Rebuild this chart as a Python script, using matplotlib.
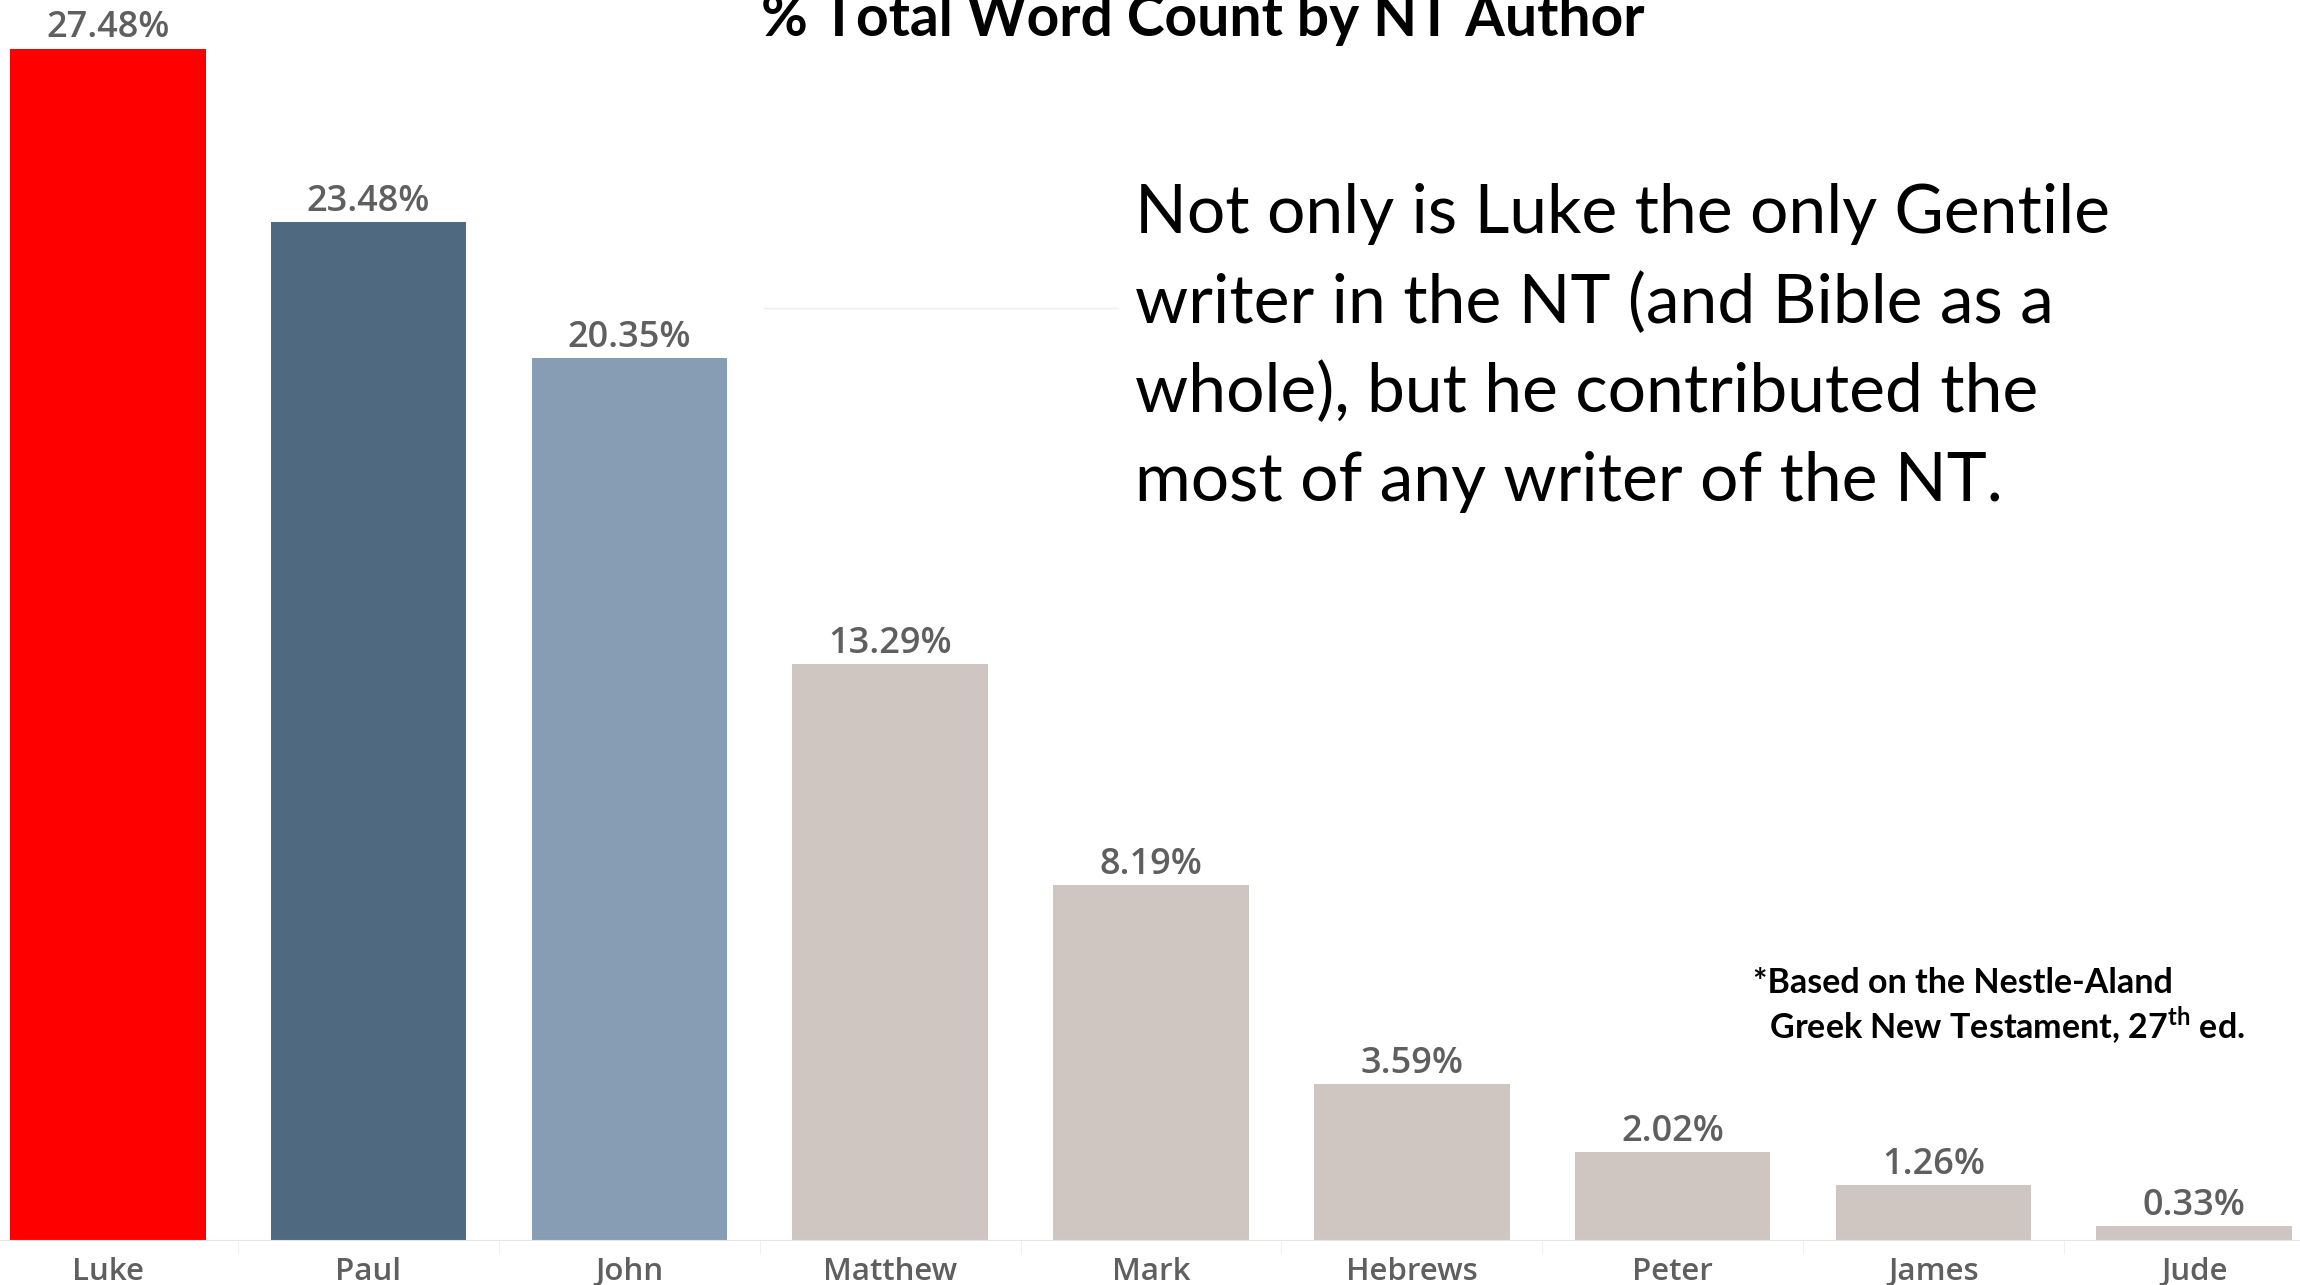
import matplotlib as mpl
mpl.use('Agg')
import matplotlib.pyplot as plt
import numpy as np

# data
authors = ['Luke', 'Paul', 'John', 'Matthew', 'Mark', 'Hebrews', 'Peter', 'James', 'Jude']
share = [27.48, 23.48, 20.35, 13.29, 8.19, 3.59, 2.02, 1.26, 0.33]
colors = ['#ff0000', '#4f6980', '#879db3'] + ['#d0c6c1'] * 6

plt.rcParams['font.family'] = ['Lato', 'DejaVu Sans']

fig = plt.figure(figsize=(23, 12.85), dpi=100)
ax = fig.add_axes([0, 0.035, 1, 0.965])

x = np.arange(len(authors))
ax.bar(x, share, width=0.75, color=colors, zorder=2)

for xi, v in zip(x, share):
    ax.annotate('%.2f%%' % v, (xi, v), xytext=(0, 8), textcoords='offset points',
                ha='center', va='baseline', fontsize=26, color='#5f5f5f',
                family=['Open Sans', 'DejaVu Sans'], fontweight='semibold')

ax.set_xlim(-0.413, 8.406)
ax.set_ylim(0, 28.6)
ax.set_xticks(x)
ax.set_xticklabels(authors, fontsize=22.5, color='#5f5f5f',
                   family=['Open Sans', 'DejaVu Sans'], fontweight='semibold')
ax.tick_params(axis='x', length=0, pad=12)
ax.set_xticks(x[:-1] + 0.5, minor=True)
ax.tick_params(axis='x', which='minor', length=10, color='#eeeeee')
ax.set_yticks([])
for s in ['top', 'right', 'left']:
    ax.spines[s].set_visible(False)
ax.spines['bottom'].set_color('#e6e6e6')

# faint leftover grid line behind the note
ax.axhline(21.5, xmin=0.332, xmax=0.486, color='#eeeeee', lw=1, zorder=1)

fig.text(0.523, 1.0 - 36 / 1285, '% Total Word Count by NT Author', ha='center',
         va='baseline', fontsize=41, fontweight='bold', color='black')

fig.text(0.4935, 1 - 183 / 1285,
         'Not only is Luke the only Gentile\nwriter in the NT (and Bible as a\n'
         'whole), but he contributed the\nmost of any writer of the NT.',
         ha='left', va='top', fontsize=48.8, linespacing=1.53, color='black')

fig.text(0.762, 1 - 967 / 1285,
         '*Based on the Nestle-Aland\n  Greek New Testament, 27$^{\\mathregular{th}}$ ed.',
         ha='left', va='top', fontsize=24.5, fontweight='bold', linespacing=1.18,
         color='black')

fig.savefig('out.png', dpi=100)
